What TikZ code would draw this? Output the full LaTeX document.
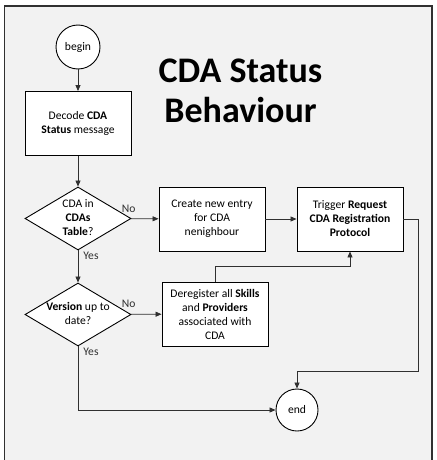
\documentclass[tikz,border=0pt]{standalone}
\usepackage{fontspec}
\setmainfont{Carlito}
\usetikzlibrary{shapes.geometric,arrows.meta}
\definecolor{panel}{HTML}{F2F2F2}
\definecolor{wire}{HTML}{303030}
\newcommand{\dlines}[1]{\makebox[0pt]{\begin{tabular}{@{}c@{}}#1\end{tabular}}}
\begin{document}
\begin{tikzpicture}[x=1pt, y=-1pt, >={Triangle[length=6pt,width=5pt]},
    every node/.style={font=\fontsize{11.6}{14}\selectfont},
    stepbox/.style={draw, fill=white, line width=0.9pt, minimum width=106, minimum height=64, inner sep=2pt, align=center},
    decision/.style={diamond, draw, fill=white, line width=0.9pt, minimum width=106, minimum height=63, inner sep=0pt, aspect=1.68},
    terminal/.style={circle, draw, fill=white, line width=0.9pt, minimum size=44, inner sep=0pt},
    tag/.style={inner sep=1pt, text=wire},
    wired/.style={->, line width=0.8pt, draw=wire}]
      \useasboundingbox (0,0) rectangle (436,460);
      \begin{scope}
        \clip (0,0) rectangle (436,460);
        \draw[fill=panel, draw=wire, line width=1.3pt] (4.5,6) rectangle (432,475);
      \end{scope}
      \node[font=\fontsize{36}{40}\selectfont\bfseries, align=center] (title) at (240.5,91) {CDA Status\\Behaviour};
      \node[terminal] (start) at (78,47) {begin};
      \node[stepbox] (decode) at (78,123.5) {Decode \textbf{CDA}\\\textbf{Status} message};
      \node[decision] (intable) at (78,218.5) {\dlines{CDA in\\\textbf{CDAs}\\\textbf{Table}?}};
      \node[decision] (uptodate) at (78,314.5) {\dlines{\textbf{Version} up to\\date?}};
      \node[stepbox] (newentry) at (212,219) {Create new entry\\for CDA\\nenighbour};
      \node[stepbox] (trigger) at (350,219) {Trigger \textbf{Request}\\\textbf{CDA Registration}\\\textbf{Protocol}};
      \node[stepbox] (dereg) at (215,314) {Deregister all \textbf{Skills}\\and \textbf{Providers}\\associated with\\CDA};
      \node[terminal, minimum size=42] (stop) at (297,410) {end};
      % connectors
      \draw[wired] (start) -- (decode);
      \draw[wired] (decode) -- (intable);
      \draw[wired] (intable) -- node[tag, at start, anchor=south, xshift=-2.5pt, yshift=4.5pt] {No} (newentry);
      \draw[wired] (intable) -- node[tag, at start, anchor=north west, xshift=4pt] {Yes} (uptodate);
      \draw[wired] (uptodate) -- node[tag, at start, anchor=south, xshift=-2.5pt, yshift=5pt] {No} (dereg);
      \draw[wired] (uptodate.south) |- node[tag, at start, anchor=north west, xshift=4pt] {Yes} (stop.west);
      \draw[wired] (newentry) -- (trigger);
      \draw[wired] (dereg.north) -- ++(0,-15) -| (trigger.south);
      \draw[wired] (trigger.east) -- ++(15,0) -- ++(0,152) -| (stop.north);
\end{tikzpicture}
\end{document}
